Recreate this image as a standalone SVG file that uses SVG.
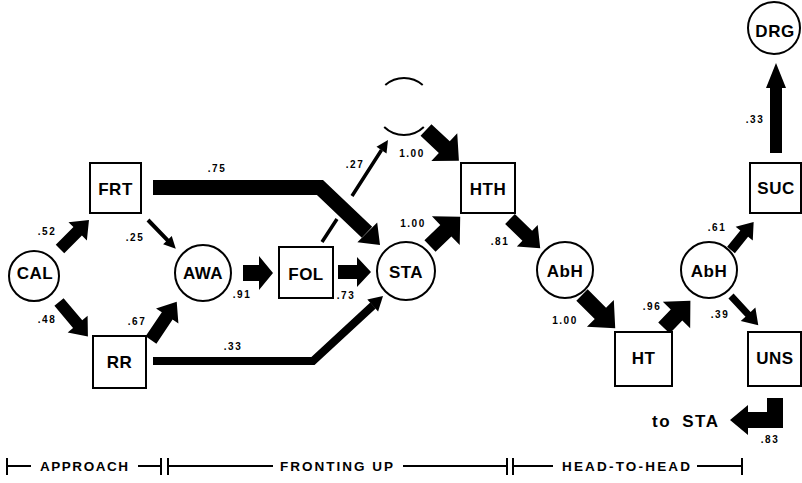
<svg xmlns="http://www.w3.org/2000/svg" width="802" height="483" viewBox="0 0 802 483">
<style>
.n{fill:#fff;stroke:#000;stroke-width:2}
.t{font-family:"Liberation Sans",Arial,sans-serif;font-weight:bold;font-size:17px;text-anchor:middle;fill:#000;letter-spacing:0.5px}
.l{font-family:"Liberation Sans",Arial,sans-serif;font-weight:bold;font-size:10px;text-anchor:middle;fill:#000;letter-spacing:1.5px}
.s{font-family:"Liberation Sans",Arial,sans-serif;font-weight:bold;font-size:13.5px;fill:#000}
.a{fill:#000;stroke:none}
.ln{fill:none;stroke:#000;stroke-linejoin:miter}
.b{fill:none;stroke:#000;stroke-width:2}
</style>
<rect width="802" height="483" fill="#fff"/>
<g id="connectors">
  <polygon class="a" points="0,-6 25,-6 25,-13 41,0 25,13 25,6 0,6" transform="translate(60,249) rotate(-45)"/>
  <polygon class="a" points="0,-6 29,-6 29,-13 45,0 29,13 29,6 0,6" transform="translate(59,302) rotate(50)"/>
  <polygon class="a" points="0,-2 28,-2 28,-6 40,0 28,6 28,2 0,2" transform="translate(148,220) rotate(46)"/>
  <polygon class="a" points="0,-6.5 29,-6.5 29,-13.5 46,0 29,13.5 29,6.5 0,6.5" transform="translate(151,340) rotate(-56)"/>
  <polygon class="a" points="0,-8 16,-8 16,-17 30,0 16,17 16,8 0,8" transform="translate(243,273)"/>
  <polygon class="a" points="0,-7 19,-7 19,-15 33,0 19,15 19,7 0,7" transform="translate(338,272)"/>
  <path class="ln" d="M322,242 L337,219 M352,196 L381.5,150" stroke-width="3.5"/>
  <polygon class="a" points="388,140 386.5,153.4 376.5,146.8"/>
  <path class="ln" d="M153,187.5 H320 L367,232.3" stroke-width="15"/>
  <polygon class="a" points="380,245 357.4,242.2 377.2,222.4"/>
  <path class="ln" d="M153,361 H313 L373,305.5" stroke-width="8"/>
  <polygon class="a" points="383,296 378.1,311.4 367.3,299.6"/>
  <polygon class="a" points="0,-8 25,-8 25,-19 45,0 25,19 25,8 0,8" transform="translate(426,130) rotate(43)"/>
  <polygon class="a" points="0,-8 22,-8 22,-20 42,0 22,20 22,8 0,8" transform="translate(430,246) rotate(-44)"/>
  <polygon class="a" points="0,-7 24,-7 24,-15 42,0 24,15 24,7 0,7" transform="translate(510,219) rotate(44)"/>
  <polygon class="a" points="0,-8 26,-8 26,-19 47,0 26,19 26,8 0,8" transform="translate(582,295) rotate(45)"/>
  <polygon class="a" points="0,-8 18,-8 18,-19 38,0 18,19 18,8 0,8" transform="translate(664,328) rotate(-46)"/>
  <polygon class="a" points="0,-5 21,-5 21,-11 36,0 21,11 21,5 0,5" transform="translate(731,250) rotate(-51)"/>
  <polygon class="a" points="0,-3.5 25,-3.5 25,-10 40,0 25,10 25,3.5 0,3.5" transform="translate(731,296) rotate(47)"/>
  <polygon class="a" points="0,-6 65,-6 65,-10 90,0 65,10 65,6 0,6" transform="translate(776,153) rotate(-90)"/>
  <polygon class="a" points="783,398 783,428 748,428 748,435 730,420 748,405 748,412 767,412 767,398"/>
  <text class="l" x="47" y="235">.52</text>
  <text class="l" x="47" y="323">.48</text>
  <text class="l" x="135" y="241">.25</text>
  <text class="l" x="137" y="325">.67</text>
  <text class="l" x="217" y="172">.75</text>
  <text class="l" x="233" y="350">.33</text>
  <text class="l" x="242" y="298">.91</text>
  <text class="l" x="346" y="299">.73</text>
  <text class="l" x="355" y="168">.27</text>
  <text class="l" x="412" y="157">1.00</text>
  <text class="l" x="413" y="227">1.00</text>
  <text class="l" x="500" y="245">.81</text>
  <text class="l" x="565" y="324">1.00</text>
  <text class="l" x="652" y="310">.96</text>
  <text class="l" x="720" y="318">.39</text>
  <text class="l" x="717" y="231">.61</text>
  <text class="l" x="755" y="123">.33</text>
  <text class="l" x="770" y="443">.83</text>
  <text class="s" x="652" y="427" style="font-size:17px;letter-spacing:1.5px;word-spacing:5px">to STA</text>
</g>
<g id="CAL"><circle class="n" cx="34" cy="276" r="25"/><text class="t" x="35" y="279">CAL</text></g>
<g id="FRT"><rect class="n" x="90" y="163" width="51" height="50"/><text class="t" x="115.5" y="195">FRT</text></g>
<g id="RR"><rect class="n" x="93" y="336" width="53" height="52"/><text class="t" x="119.5" y="368">RR</text></g>
<g id="AWA"><circle class="n" cx="203" cy="273" r="28"/><text class="t" x="203" y="279">AWA</text></g>
<g id="FOL"><rect class="n" x="279" y="247" width="54" height="51"/><text class="t" x="306" y="280">FOL</text></g>
<g id="STA"><circle class="n" cx="406" cy="271" r="29"/><text class="t" x="406" y="278">STA</text></g>
<g id="hidden"><path class="b" d="M385.3,85 A28.5,28.5 0 0 1 422.7,85 M384.2,127 A28.5,28.5 0 0 0 423.8,127"/></g>
<g id="HTH"><rect class="n" x="461" y="163" width="54" height="50"/><text class="t" x="488" y="195">HTH</text></g>
<g id="AbH1"><circle class="n" cx="565" cy="270" r="28"/><text class="t" x="565" y="277">AbH</text></g>
<g id="AbH2"><circle class="n" cx="709" cy="270" r="28"/><text class="t" x="709" y="277">AbH</text></g>
<g id="HT"><rect class="n" x="615" y="332" width="57" height="54"/><text class="t" x="643.5" y="364">HT</text></g>
<g id="UNS"><rect class="n" x="748" y="332" width="53" height="54"/><text class="t" x="775" y="364">UNS</text></g>
<g id="SUC"><rect class="n" x="750" y="163" width="51" height="50"/><text class="t" x="776" y="194">SUC</text></g>
<g id="DRG"><circle class="n" cx="774" cy="28" r="26"/><text class="t" x="775" y="37">DRG</text></g>
<g id="phases">
  <path class="b" d="M7,458 V475 M7,466 H31 M138,466 H161 M161,458 V475 M168,458 V475 M168,466 H273 M403,466 H507 M507,458 V475 M513,458 V475 M513,466 H553 M697,466 H742 M742,458 V475"/>
  <text class="s" x="40" y="471" textLength="88" lengthAdjust="spacing">APPROACH</text>
  <text class="s" x="280" y="471" textLength="113" lengthAdjust="spacing">FRONTING UP</text>
  <text class="s" x="562" y="471" textLength="128" lengthAdjust="spacing">HEAD-TO-HEAD</text>
</g>
</svg>
